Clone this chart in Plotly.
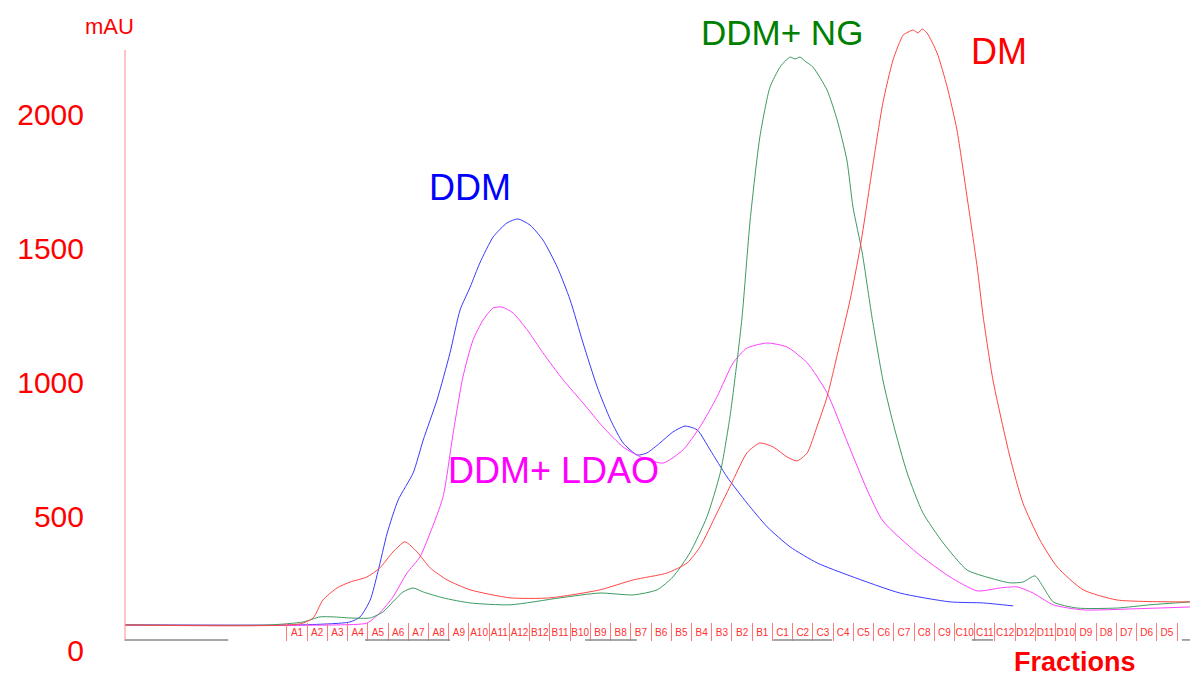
import plotly.graph_objects as go

# ---- data (elution volume in mL, absorbance in mAU) ----
ddm_v = [0, 4.33, 5.56, 5.81, 6.06, 6.25, 6.48, 6.75, 7.12, 7.37, 7.71, 8.03, 8.28, 8.53, 8.77,
         9.10, 9.44, 9.71, 10.01, 10.33, 10.68, 11.00, 11.32, 11.67, 12.00, 12.31, 12.66, 12.90,
         13.22, 13.54, 13.84, 14.14, 14.46, 14.88, 15.37, 15.87, 16.44, 17.11, 17.92, 19.15,
         20.39, 21.21, 21.95]
ddm_a = [0, 0, 11, 30, 93, 198, 343, 466, 567, 690, 839, 1014, 1175, 1261, 1351,
         1448, 1500, 1515, 1492, 1436, 1336, 1213, 1052, 888, 765, 679, 634, 642,
         679, 720, 742, 728, 653, 552, 455, 366, 291, 231, 183, 119,
         86, 82, 71]

ldao_v = [0, 5.24, 5.98, 6.30, 6.62, 6.97, 7.29, 7.54, 7.86, 8.11, 8.35, 8.60, 8.85, 9.10, 9.32,
          9.59, 9.94, 10.33, 10.83, 11.32, 11.81, 12.31, 12.80, 13.30, 13.79, 14.21, 14.63,
          15.03, 15.37, 15.87, 16.36, 16.86, 17.35, 17.85, 18.34, 18.73, 19.57, 20.39, 21.06,
          21.63, 22.05, 22.44, 22.94, 23.68, 24.91, 26.32]
ldao_a = [0, 0, 7, 45, 104, 194, 254, 343, 478, 716, 925, 1063, 1138, 1183, 1186,
          1164, 1101, 1015, 914, 828, 739, 664, 623, 604, 653, 739, 851,
          978, 1033, 1052, 1037, 978, 866, 683, 504, 388, 269, 179, 127,
          138, 142, 119, 75, 56, 60, 67]

ng_v = [0, 3.58, 4.40, 4.82, 5.14, 5.56, 6.06, 6.38, 6.62, 6.87, 7.12, 7.37, 7.86, 8.53, 9.52,
        10.75, 11.74, 12.56, 13.15, 13.54, 13.96, 14.38, 14.71, 14.95, 15.13, 15.25, 15.45,
        15.69, 15.94, 16.19, 16.34, 16.44, 16.56, 16.68, 16.83, 17.00, 17.35, 17.60, 17.84,
        17.99, 18.22, 18.46, 18.73, 18.98, 19.33, 19.72, 20.22, 20.81, 21.38, 21.87, 22.19,
        22.49, 22.69, 22.94, 23.53, 24.52, 25.33, 26.32]
ng_a = [0, 0, 11, 30, 30, 26, 26, 49, 86, 123, 138, 123, 101, 82, 75,
        101, 119, 112, 131, 179, 269, 403, 567, 776, 989, 1149, 1511,
        1821, 2007, 2082, 2108, 2119, 2112, 2119, 2101, 2082, 1996, 1884, 1735,
        1560, 1388, 1149, 914, 754, 567, 418, 306, 205, 175, 157, 160,
        183, 142, 86, 63, 63, 75, 86]

dm_v = [0, 4.33, 4.65, 4.89, 5.24, 5.56, 5.98, 6.30, 6.62, 6.92, 7.22, 7.54, 7.96, 8.53, 9.52,
        10.50, 11.74, 12.56, 13.40, 13.89, 14.21, 14.63, 15.03, 15.37, 15.69, 16.02, 16.36,
        16.61, 16.86, 17.10, 17.35, 17.67, 17.92, 18.17, 18.49, 18.73, 18.98, 19.23, 19.35,
        19.48, 19.60, 19.70, 19.82, 20.07, 20.32, 20.56, 20.81, 21.06, 21.21, 21.45, 21.87,
        22.19, 22.61, 23.04, 23.68, 24.52, 26.00, 26.32]
dm_a = [0, 4, 26, 93, 138, 160, 179, 213, 272, 310, 272, 213, 168, 131, 101,
        101, 131, 168, 194, 231, 291, 418, 541, 642, 679, 664, 627,
        612, 642, 739, 851, 1052, 1213, 1410, 1724, 1948, 2108, 2201, 2212,
        2220, 2209, 2224, 2209, 2134, 2007, 1847, 1597, 1336, 1149, 914, 627,
        455, 317, 216, 131, 93, 86, 86]

fraction_labels = (["A%d" % i for i in range(1, 13)] + ["B%d" % i for i in range(12, 0, -1)]
                   + ["C%d" % i for i in range(1, 13)] + ["D%d" % i for i in range(12, 4, -1)])
fraction_start = 4.0   # mL
fraction_size = 0.5    # mL
pooled_marks = [(0.0, 2.55), (5.93, 8.03), (11.37, 12.65), (16.02, 17.47), (20.93, 21.45), (26.12, 26.32)]

y_ticks = [0, 500, 1000, 1500, 2000]

series = [
    ("DDM", ddm_v, ddm_a, "#3a3aff"),
    ("DDM+ LDAO", ldao_v, ldao_a, "#ff40ff"),
    ("DDM+ NG", ng_v, ng_a, "#3c9a62"),
    ("DM", dm_v, dm_a, "#ff4545"),
]

fig = go.Figure()
for name, xv, yv, col in series:
    fig.add_trace(go.Scatter(x=xv, y=yv, mode="lines", name=name,
                             line=dict(color=col, width=1.0, shape="spline", smoothing=0.6),
                             showlegend=False))

boundaries = [fraction_start + fraction_size * k for k in range(len(fraction_labels) + 1)]
centers = [b + fraction_size / 2 for b in boundaries[:-1]]

XMIN, XMAX = -0.05, 26.32
YMIN, YMAX = -60, 2276

fig.update_xaxes(range=[XMIN, XMAX], tickmode="array", tickvals=centers, ticktext=fraction_labels,
                 ticks="", ticklabelposition="inside", tickangle=0,
                 tickfont=dict(size=10, color="#ff3030", family="Liberation Sans"),
                 showgrid=False, zeroline=False, showline=False,
                 minor=dict(tickmode="array", tickvals=boundaries, ticks="inside", ticklen=18,
                            tickcolor="#ff7a7a", tickwidth=1, showgrid=False))
fig.update_yaxes(range=[YMIN, YMAX], tickmode="array", tickvals=y_ticks,
                 ticktext=[str(t) for t in y_ticks], ticks="",
                 tickfont=dict(size=30, color="#ff0000", family="Liberation Sans"),
                 ticklabelshift=26, ticklabelstandoff=38,
                 showgrid=False, zeroline=False, showline=False)

shapes = [dict(type="line", xref="x", yref="y", x0=0, x1=0, y0=YMIN, y1=2145,
               line=dict(color="#ff9a9a", width=1.2))]
for a, b in pooled_marks:
    shapes.append(dict(type="line", xref="x", yref="y", x0=a, x1=b, y0=-56, y1=-56,
                       line=dict(color="#8a8a8a", width=1.5)))

annots = [
    dict(text="DDM", x=8.53, y=1634, font=dict(color="#0000ff", size=36)),
    dict(text="DDM+ LDAO", x=10.58, y=578, font=dict(color="#ff00ff", size=36)),
    dict(text="DDM+ NG", x=16.24, y=2209, font=dict(color="#008000", size=35)),
    dict(text="DM", x=21.60, y=2138, font=dict(color="#ff0000", size=36)),
]
annotations = []
for a in annots:
    a["font"]["family"] = "Liberation Sans"
    annotations.append(dict(xref="x", yref="y", showarrow=False, xanchor="center", yanchor="middle", **a))
annotations.append(dict(text="mAU", xref="paper", yref="paper", x=-0.0122, y=0.981,
                        xanchor="center", yanchor="middle",
                        showarrow=False, font=dict(color="#ff0000", size=22, family="Liberation Sans")))
annotations.append(dict(text="<b>Fractions</b>", xref="paper", yref="paper", x=0.892, y=-0.033,
                        xanchor="center", yanchor="middle",
                        showarrow=False, font=dict(color="#ff0000", size=27, family="Liberation Sans")))

fig.update_layout(width=1190, height=677, margin=dict(l=123, r=0, t=15, b=36),
                  paper_bgcolor="white", plot_bgcolor="white",
                  shapes=shapes, annotations=annotations)

fig.write_html("out.html")
